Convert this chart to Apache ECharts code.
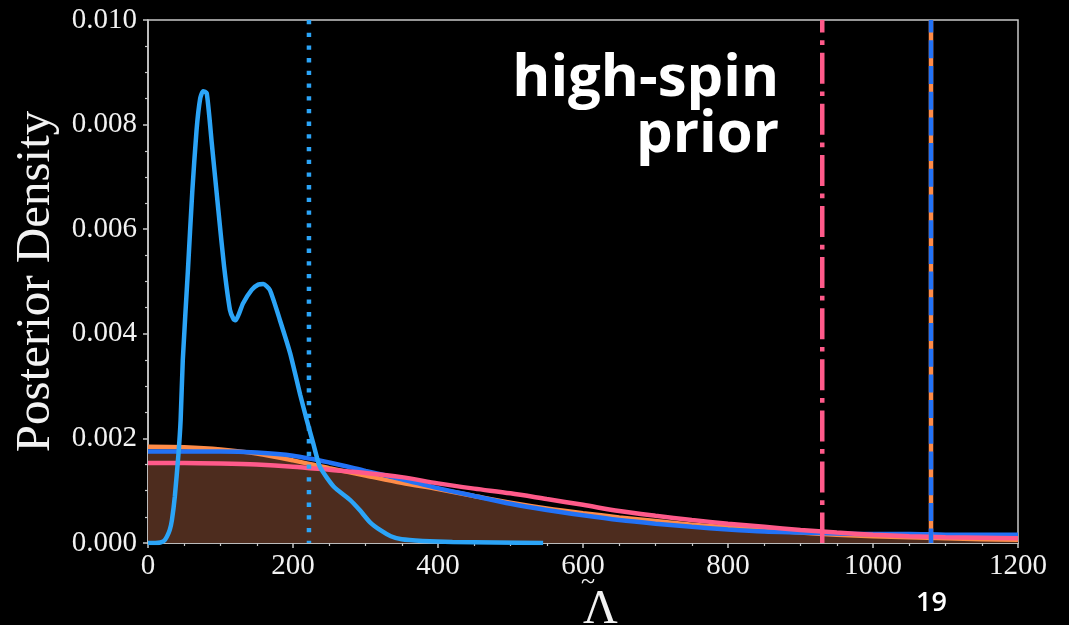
<!DOCTYPE html>
<html><head><meta charset="utf-8">
<script src="https://cdn.jsdelivr.net/npm/echarts@6/dist/echarts.min.js"></script>
<style>html,body{margin:0;padding:0;background:#000;}#c{width:1069px;height:625px;}</style>
</head><body><div id="c"></div>
<script>
// Broad prior-like curves sampled on a common Lambda grid
const lambdaGrid = [0,50,100,150,200,250,300,350,400,450,500,550,600,650,700,750,800,850,900,950,1000,1050,1100,1150,1200];
const orangeDens = [0.00184,0.00183,0.00179,0.00171,0.00158,0.00143,0.00129,0.00115,0.00103,0.00090,0.00077,0.00066,0.00057,0.00049,0.00042,0.00035,0.00030,0.00025,0.00020,0.00016,0.00013,0.00011,0.00009,0.00007,0.00006];
const blueDens   = [0.00175,0.00175,0.00175,0.00173,0.00167,0.00154,0.00138,0.00122,0.00105,0.00090,0.00075,0.00063,0.00053,0.00044,0.00037,0.00031,0.00026,0.00022,0.00020,0.00018,0.00017,0.00017,0.00016,0.00016,0.00016];
const pinkDens   = [0.00153,0.00153,0.00152,0.00150,0.00146,0.00140,0.00134,0.00126,0.00114,0.00104,0.00095,0.00084,0.00073,0.00061,0.00052,0.00044,0.00037,0.00031,0.00025,0.00020,0.00016,0.00013,0.00011,0.00010,0.00009];
// Narrow posterior
const postLambda = [0,10,17,22,26,30,33,37,42,45,48,55,61,67,72,76,81,88,97,105,113,118,121,126,131,143,152,159,168,182,196,210,219,228,237,256,279,292,306,320,335,350,379,420,480,545];
const postDens   = [0,0,0.00001,0.00004,0.00012,0.00025,0.00044,0.00089,0.0017,0.00235,0.0035,0.0052,0.0067,0.0079,0.0085,0.00864,0.0086,0.00764,0.00637,0.00528,0.00446,0.00428,0.00426,0.0044,0.00458,0.00484,0.00494,0.00495,0.00484,0.00426,0.00363,0.00283,0.00235,0.0019,0.00146,0.00108,0.00082,0.00063,0.0004,0.00025,0.00013,0.00007,0.00004,0.00002,0.00001,0];
// Vertical reference lines
const dottedX = 222;
const dashDotX = 930;
const dashedX = 1080;
const xTicks = [0,200,400,600,800,1000,1200];
const yTicks = [0,0.002,0.004,0.006,0.008,0.010];

const pairs = (xs, ys) => xs.map((x, i) => [x, ys[i]]);
const vline = x => [[x, 0.010], [x, 0]];
const serif = 'Liberation Serif';

const chart = echarts.init(document.getElementById('c'));
chart.setOption({
  backgroundColor: '#000',
  animation: false,
  grid: {left: 148, right: 51, top: 20, bottom: 82, show: true, borderColor: '#c8c8c8', borderWidth: 1.5,
         containLabel: false, outerBoundsMode: 'none'},
  xAxis: {
    type: 'value', min: xTicks[0], max: xTicks[xTicks.length-1], interval: 200,
    axisLine: {show: true, lineStyle: {color: '#c8c8c8', width: 1.5}},
    axisTick: {show: true, length: 5, lineStyle: {color: '#c8c8c8', width: 1.5}},
    minorTick: {show: true, splitNumber: 4, length: 3, lineStyle: {color: '#c8c8c8', width: 1.2}},
    splitLine: {show: false},
    axisLabel: {color: '#f2f2f2', fontFamily: serif, fontSize: 29, margin: 9, formatter: v => String(v)}
  },
  yAxis: {
    type: 'value', min: yTicks[0], max: yTicks[yTicks.length-1], interval: 0.002,
    name: 'Posterior Density', nameLocation: 'middle', nameGap: 84, nameRotate: 90,
    nameTextStyle: {color: '#f2f2f2', fontFamily: serif, fontSize: 49},
    axisLine: {show: true, lineStyle: {color: '#c8c8c8', width: 1.5}},
    axisTick: {show: true, length: 5, lineStyle: {color: '#c8c8c8', width: 1.5}},
    minorTick: {show: true, splitNumber: 4, length: 3, lineStyle: {color: '#c8c8c8', width: 1.2}},
    splitLine: {show: false},
    axisLabel: {color: '#f2f2f2', fontFamily: serif, fontSize: 29, margin: 11, formatter: v => v.toFixed(3)}
  },
  graphic: [
    {type: 'text', left: 583, top: 586, style: {text: 'Λ', fill: '#f2f2f2', font: '48px "Liberation Serif"', textAlign: 'center'}},
    {type: 'text', left: 581, top: 569, style: {text: '~', fill: '#f2f2f2', font: '26px "Liberation Serif"', textAlign: 'center'}},
    {type: 'text', right: 1069 - 779, top: 50, style: {text: 'high-spin', fill: '#fff', font: 'bold 58px "Open Sans"', textAlign: 'right'}},
    {type: 'text', right: 1069 - 779, top: 106, style: {text: 'prior', fill: '#fff', font: 'bold 58px "Open Sans"', textAlign: 'right'}},
    {type: 'text', left: 916, top: 590, style: {text: '19', fill: '#fff', font: '600 27px "Open Sans"'}}
  ],
  series: [
    {type: 'line', data: pairs(lambdaGrid, orangeDens), smooth: 0.3, showSymbol: false,
     lineStyle: {color: '#ff8c48', width: 4.5}, areaStyle: {color: '#4d2c1e', opacity: 1}, z: 2},
    {type: 'line', data: pairs(lambdaGrid, blueDens), smooth: 0.3, showSymbol: false,
     lineStyle: {color: '#2272f6', width: 4.5}, z: 3},
    {type: 'line', data: pairs(lambdaGrid, pinkDens), smooth: 0.3, showSymbol: false,
     lineStyle: {color: '#ff5a8a', width: 4.5}, z: 4},
    {type: 'line', data: vline(dottedX), showSymbol: false,
     lineStyle: {color: '#2ba4f7', width: 4.5, type: [4.3, 8.4], cap: 'butt'}, z: 5},
    {type: 'line', data: vline(dashDotX), showSymbol: false,
     lineStyle: {color: '#ff5a8a', width: 4.5, type: [31, 7.7, 4.7, 7.7], dashOffset: 18.4, cap: 'butt'}, z: 5},
    {type: 'line', data: vline(dashedX), showSymbol: false,
     lineStyle: {color: '#ff8c48', width: 4.5}, z: 5},
    {type: 'line', data: vline(dashedX), showSymbol: false,
     lineStyle: {color: '#2272f6', width: 4.5, type: [18, 7.7], dashOffset: 5.4, cap: 'butt'}, z: 6},
    {type: 'line', data: pairs(postLambda, postDens), smooth: 0.2, showSymbol: false,
     lineStyle: {color: '#2ba4f7', width: 4.5}, z: 7}
  ]
});
</script></body></html>
